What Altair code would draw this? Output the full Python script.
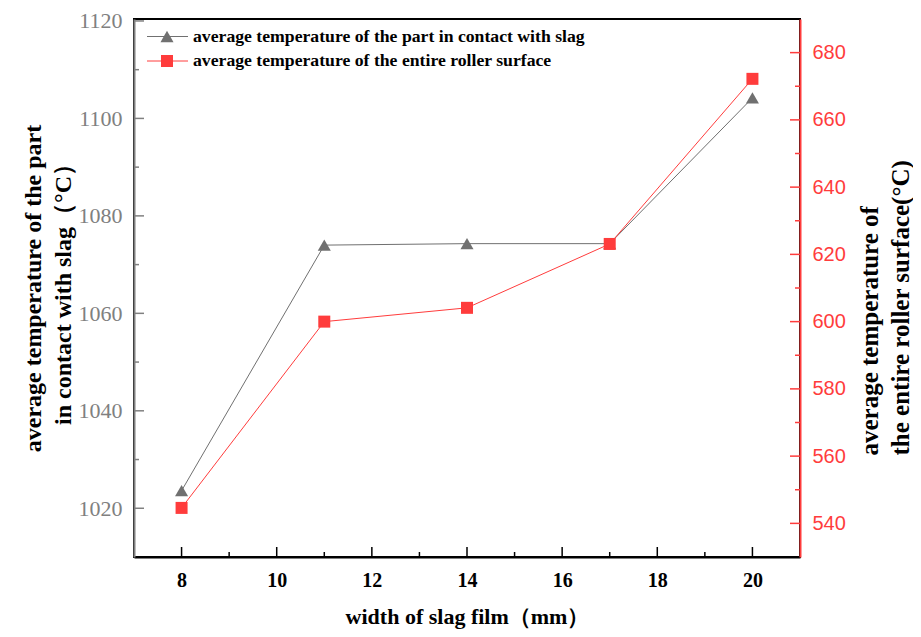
import altair as alt
import pandas as pd

# ---------------- data ----------------
widths = [8, 11, 14, 17, 20]
contact_temp = [1023.6, 1074.0, 1074.3, 1074.3, 1104.2]
surface_temp = [544.6, 600.0, 604.1, 623.1, 672.2]

series_names = [
    "average temperature of the part in contact with slag",
    "average temperature of the entire roller surface",
]
x_ticks = [8, 10, 12, 14, 16, 18, 20]
x_minor = [9, 11, 13, 15, 17, 19]
left_ticks = [1020, 1040, 1060, 1080, 1100, 1120]
left_minor = [1030, 1050, 1070, 1090, 1110]
right_ticks = [540, 560, 580, 600, 620, 640, 660, 680]
right_minor = [550, 570, 590, 610, 630, 650, 670]
left_title = ["average temperature of the part", "in contact with slag（°C）"]
right_title = ["average temperature of", "the entire roller surface(°C)"]
x_title = "width of slag film（mm）"

# ---------------- style ----------------
W, H = 666, 538
SERIF = "Liberation Serif"
SANS = "Liberation Sans"
GRAY = "#707070"
GRAY_AX = "#808080"
RED = "#ff3c3c"
MAJ, MIN = 10, 5

df = pd.DataFrame({"width": widths, "contact": contact_temp, "surface": surface_temp})

X = alt.X(
    "width:Q",
    scale=alt.Scale(domain=[7, 21], nice=False, zero=False),
    axis=alt.Axis(
        values=x_ticks, ticks=False, grid=False,
        domainColor="black", domainWidth=2,
        labelFont=SERIF, labelFontWeight="bold", labelFontSize=20,
        labelColor="black", labelPadding=13,
        title=x_title, titleFont=SERIF, titleFontSize=22, titleFontWeight="bold",
        titleColor="black", titleY=66, titleBaseline="alphabetic",
    ),
)

YL = alt.Y(
    "contact:Q",
    scale=alt.Scale(domain=[1010, 1120.4], nice=False, zero=False),
    axis=alt.Axis(
        orient="left", values=left_ticks, ticks=False, grid=False, format="d",
        domainColor=GRAY_AX, domainWidth=2,
        labelFont=SERIF, labelFontSize=22, labelColor=GRAY_AX, labelPadding=12,
        title=left_title, titleFont=SERIF, titleFontSize=24, titleFontWeight="bold",
        titleColor="black", titleAngle=270, titleX=-101, titleY=H / 2,
        titleAlign="center", titleBaseline="middle", titleLineHeight=30,
    ),
)

YR = alt.Y(
    "surface:Q",
    scale=alt.Scale(domain=[530, 690], nice=False, zero=False),
    axis=alt.Axis(
        orient="right", values=right_ticks, ticks=False, grid=False,
        domainColor=RED, domainWidth=2,
        labelFont=SANS, labelFontSize=20, labelColor=RED, labelPadding=12,
        title=right_title, titleFont=SERIF, titleFontSize=25, titleFontWeight="bold",
        titleColor="black", titleAngle=270, titleX=69, titleY=436,
        titleAlign="left", titleBaseline="middle", titleLineHeight=31,
    ),
)

base = alt.Chart(df)

left_line = base.mark_line(color=GRAY, strokeWidth=1).encode(x=X, y=YL)
left_pts = base.mark_point(shape="triangle-up", filled=True, size=170, color=GRAY, opacity=1).encode(x=X, y=YL)
left_maj = alt.Chart(pd.DataFrame({"contact": left_ticks})).mark_rule(color=GRAY_AX, strokeWidth=1.5).encode(
    y=YL, x=alt.value(0), x2=alt.value(MAJ))
left_min = alt.Chart(pd.DataFrame({"contact": left_minor})).mark_rule(color=GRAY_AX, strokeWidth=1.5).encode(
    y=YL, x=alt.value(0), x2=alt.value(MIN))
x_maj = alt.Chart(pd.DataFrame({"width": x_ticks})).mark_rule(color="black", strokeWidth=1.5).encode(
    x=X, y=alt.value(H), y2=alt.value(H - MAJ))
x_min = alt.Chart(pd.DataFrame({"width": x_minor})).mark_rule(color="black", strokeWidth=1.5).encode(
    x=X, y=alt.value(H), y2=alt.value(H - MIN))

left_group = alt.layer(left_line, left_maj, left_min, x_maj, x_min, left_pts)

right_line = base.mark_line(color=RED, strokeWidth=1).encode(x=X, y=YR)
right_pts = base.mark_point(shape="square", filled=True, size=144, color=RED, opacity=1).encode(x=X, y=YR)
right_maj = alt.Chart(pd.DataFrame({"surface": right_ticks})).mark_rule(color=RED, strokeWidth=1.5).encode(
    y=YR, x=alt.value(W - MAJ), x2=alt.value(W))
right_min = alt.Chart(pd.DataFrame({"surface": right_minor})).mark_rule(color=RED, strokeWidth=1.5).encode(
    y=YR, x=alt.value(W - MIN), x2=alt.value(W))

right_group = alt.layer(right_line, right_maj, right_min, right_pts)

# ---------------- legend (inside, top-left) ----------------
legend_layers = []
legend_style = [(GRAY, "triangle-up", 170), (RED, "square", 144)]
for i, (name, (col, shp, sz)) in enumerate(zip(series_names, legend_style)):
    ly = 17.5 + i * 24.5
    ldf = pd.DataFrame({"label": [name]})
    lc = alt.Chart(ldf)
    legend_layers.append(lc.mark_rule(color=col, strokeWidth=1).encode(
        x=alt.value(13), x2=alt.value(54), y=alt.value(ly)))
    legend_layers.append(lc.mark_point(shape=shp, filled=True, size=sz, color=col, opacity=1).encode(
        x=alt.value(33), y=alt.value(ly)))
    legend_layers.append(lc.mark_text(align="left", baseline="middle", font=SERIF, fontSize=17.7,
                                      fontWeight="bold", color="black").encode(
        text="label:N", x=alt.value(59), y=alt.value(ly)))

chart = (
    alt.layer(left_group, right_group, *legend_layers)
    .resolve_scale(y="independent")
    .properties(
        width=W, height=H,
        padding={"left": 126, "top": 11, "right": 113, "bottom": 72},
        autosize=alt.AutoSizeParams(type="none"),
        background="white",
    )
    .configure_view(stroke="black", strokeWidth=2)
)

chart.save("out.html", embed_options={"renderer": "svg", "actions": False})
